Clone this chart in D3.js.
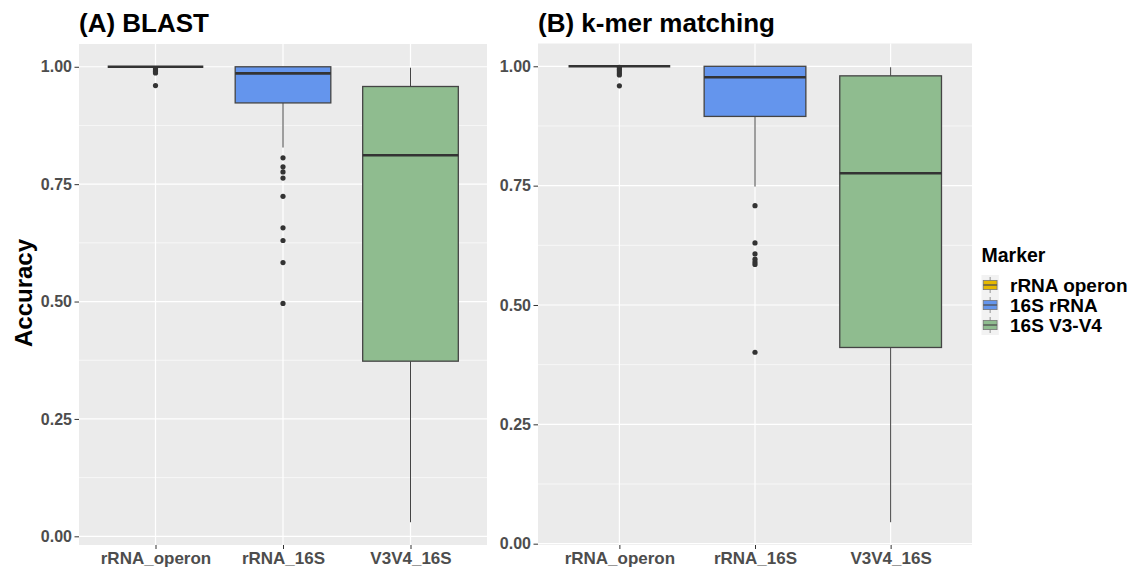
<!DOCTYPE html>
<html>
<head>
<meta charset="utf-8">
<script src="https://cdn.jsdelivr.net/npm/d3@7"></script>
<style>
  body { margin: 0; background: #fff; }
  svg text { font-family: "Liberation Sans", Arial, sans-serif; font-weight: bold; }
</style>
</head>
<body>
<div id="chart"></div>
<script>
// Categories and legend
const categories = ["rRNA_operon", "rRNA_16S", "V3V4_16S"];
const markerNames = ["rRNA operon", "16S rRNA", "16S V3-V4"];
const markerFills = ["#E6B800", "#6495ED", "#8FBC8F"];
const yTicks = [0, 0.25, 0.5, 0.75, 1.0];
const yMinorTicks = [0.125, 0.375, 0.625, 0.875];

// (A) BLAST box stats
const blastLow = [1.0, 0.828, 0.03];
const blastQ1 = [1.0, 0.923, 0.373];
const blastMedian = [1.0, 0.986, 0.8115];
const blastQ3 = [1.0, 1.0, 0.958];
const blastHigh = [1.0, 1.0, 0.998];
const blastOutliers = [
  [0.996, 0.993, 0.99, 0.987, 0.96],
  [0.806, 0.787, 0.776, 0.763, 0.724, 0.657, 0.63, 0.583, 0.496],
  []
];

// (B) k-mer matching box stats
const kmerLow = [1.0, 0.748, 0.045];
const kmerQ1 = [1.0, 0.895, 0.411];
const kmerMedian = [1.0, 0.977, 0.776];
const kmerQ3 = [1.0, 1.0, 0.98];
const kmerHigh = [1.0, 1.0, 0.998];
const kmerOutliers = [
  [0.998, 0.994, 0.99, 0.986, 0.982, 0.959],
  [0.708, 0.63, 0.607, 0.596, 0.59, 0.585, 0.401],
  []
];

const W = 1136, H = 571;
const svg = d3.select("#chart").append("svg")
  .attr("width", W).attr("height", H);

function drawPanel(p) {
  const all = [].concat(p.low, p.high, ...p.outliers);
  const lo = d3.min(all), hi = d3.max(all);
  const pad = (hi - lo) * 0.05;

  const x = d3.scalePoint().domain(categories)
    .range([p.left, p.right]).padding(0.6);
  const step = x.step();
  const y = d3.scaleLinear().domain([lo - pad, hi + pad]).range([p.bottom, p.top]);

  const g = svg.append("g");

  // panel background + grid
  g.append("rect")
    .attr("x", p.left).attr("y", p.top)
    .attr("width", p.right - p.left).attr("height", p.bottom - p.top)
    .attr("fill", "#EBEBEB");

  g.selectAll(".minor").data(yMinorTicks).enter().append("line")
    .attr("x1", p.left).attr("x2", p.right)
    .attr("y1", d => y(d)).attr("y2", d => y(d))
    .attr("stroke", "#fff").attr("stroke-width", 0.6);

  g.selectAll(".major").data(yTicks).enter().append("line")
    .attr("x1", p.left).attr("x2", p.right)
    .attr("y1", d => y(d)).attr("y2", d => y(d))
    .attr("stroke", "#fff").attr("stroke-width", 1.2);

  g.selectAll(".vgrid").data(categories).enter().append("line")
    .attr("x1", d => x(d)).attr("x2", d => x(d))
    .attr("y1", p.top).attr("y2", p.bottom)
    .attr("stroke", "#fff").attr("stroke-width", 1.2);

  // boxes
  const bw = step * 0.75;
  categories.forEach((c, i) => {
    const cx = x(c);
    // whiskers
    g.append("line")
      .attr("x1", cx).attr("x2", cx)
      .attr("y1", y(p.q3[i])).attr("y2", y(p.high[i]))
      .attr("stroke", "#444").attr("stroke-width", 1);
    g.append("line")
      .attr("x1", cx).attr("x2", cx)
      .attr("y1", y(p.q1[i])).attr("y2", y(p.low[i]))
      .attr("stroke", "#444").attr("stroke-width", 1);
    g.append("rect")
      .attr("x", cx - bw / 2).attr("width", bw)
      .attr("y", y(p.q3[i]))
      .attr("height", Math.max(0, y(p.q1[i]) - y(p.q3[i])))
      .attr("fill", markerFills[i])
      .attr("stroke", "#444").attr("stroke-width", 1.3);
    g.append("line")
      .attr("x1", cx - bw / 2).attr("x2", cx + bw / 2)
      .attr("y1", y(p.median[i])).attr("y2", y(p.median[i]))
      .attr("stroke", "#333").attr("stroke-width", 2.6);
    g.selectAll(null).data(p.outliers[i]).enter().append("circle")
      .attr("cx", cx).attr("cy", d => y(d))
      .attr("r", 2.6).attr("fill", "#333");
  });

  // axes
  const yAxis = g.append("g")
    .attr("transform", "translate(" + p.left + ",0)")
    .call(d3.axisLeft(y).tickValues(yTicks).tickFormat(d3.format(".2f")).tickSize(4.5).tickPadding(2.5));
  yAxis.select(".domain").remove();
  yAxis.selectAll(".tick line").attr("stroke", "#333").attr("stroke-width", 1);
  yAxis.selectAll("text").attr("fill", "#4D4D4D").style("font-size", "16px");

  const xAxis = g.append("g")
    .attr("transform", "translate(0," + p.bottom + ")")
    .call(d3.axisBottom(x).tickSize(4).tickPadding(3));
  xAxis.select(".domain").remove();
  xAxis.selectAll(".tick line").attr("stroke", "#333").attr("stroke-width", 1);
  xAxis.selectAll("text").attr("fill", "#4D4D4D").style("font-size", "17px");

  // title
  g.append("text")
    .attr("x", p.left).attr("y", 32)
    .style("font-size", "26px").attr("fill", "#000")
    .text(p.title);
}

drawPanel({
  left: 79, right: 487, top: 44, bottom: 545,
  title: "(A) BLAST",
  low: blastLow, q1: blastQ1, median: blastMedian, q3: blastQ3, high: blastHigh,
  outliers: blastOutliers
});

drawPanel({
  left: 538, right: 972, top: 43.5, bottom: 545,
  title: "(B) k-mer matching",
  low: kmerLow, q1: kmerQ1, median: kmerMedian, q3: kmerQ3, high: kmerHigh,
  outliers: kmerOutliers
});

// y axis title
svg.append("text")
  .attr("transform", "translate(32,293) rotate(-90)")
  .attr("text-anchor", "middle")
  .style("font-size", "24px").attr("fill", "#000")
  .text("Accuracy");

// legend
const legend = svg.append("g").attr("transform", "translate(981.5,0)");
legend.append("text")
  .attr("x", 0).attr("y", 262)
  .style("font-size", "19.5px").attr("fill", "#000")
  .text("Marker");

const keyW = 17.3, keyH = 20, keyTop = 275;
markerNames.forEach((name, i) => {
  const ky = keyTop + i * keyH;
  const k = legend.append("g");
  k.append("rect").attr("x", 0).attr("y", ky).attr("width", keyW).attr("height", keyH)
    .attr("fill", "#F2F2F2");
  k.append("line").attr("x1", keyW / 2).attr("x2", keyW / 2)
    .attr("y1", ky + keyH * 0.1).attr("y2", ky + keyH * 0.9)
    .attr("stroke", "#777").attr("stroke-width", 0.8);
  k.append("rect").attr("x", keyW * 0.1).attr("y", ky + keyH * 0.27)
    .attr("width", keyW * 0.8).attr("height", keyH * 0.46)
    .attr("fill", markerFills[i]).attr("stroke", "#777").attr("stroke-width", 0.8);
  k.append("line").attr("x1", keyW * 0.1).attr("x2", keyW * 0.9)
    .attr("y1", ky + keyH / 2).attr("y2", ky + keyH / 2)
    .attr("stroke", "#555").attr("stroke-width", 1.4);
  legend.append("text")
    .attr("x", 28.5).attr("y", ky + keyH / 2 + 7)
    .style("font-size", "19px").attr("fill", "#000")
    .text(name);
});
</script>
</body>
</html>
